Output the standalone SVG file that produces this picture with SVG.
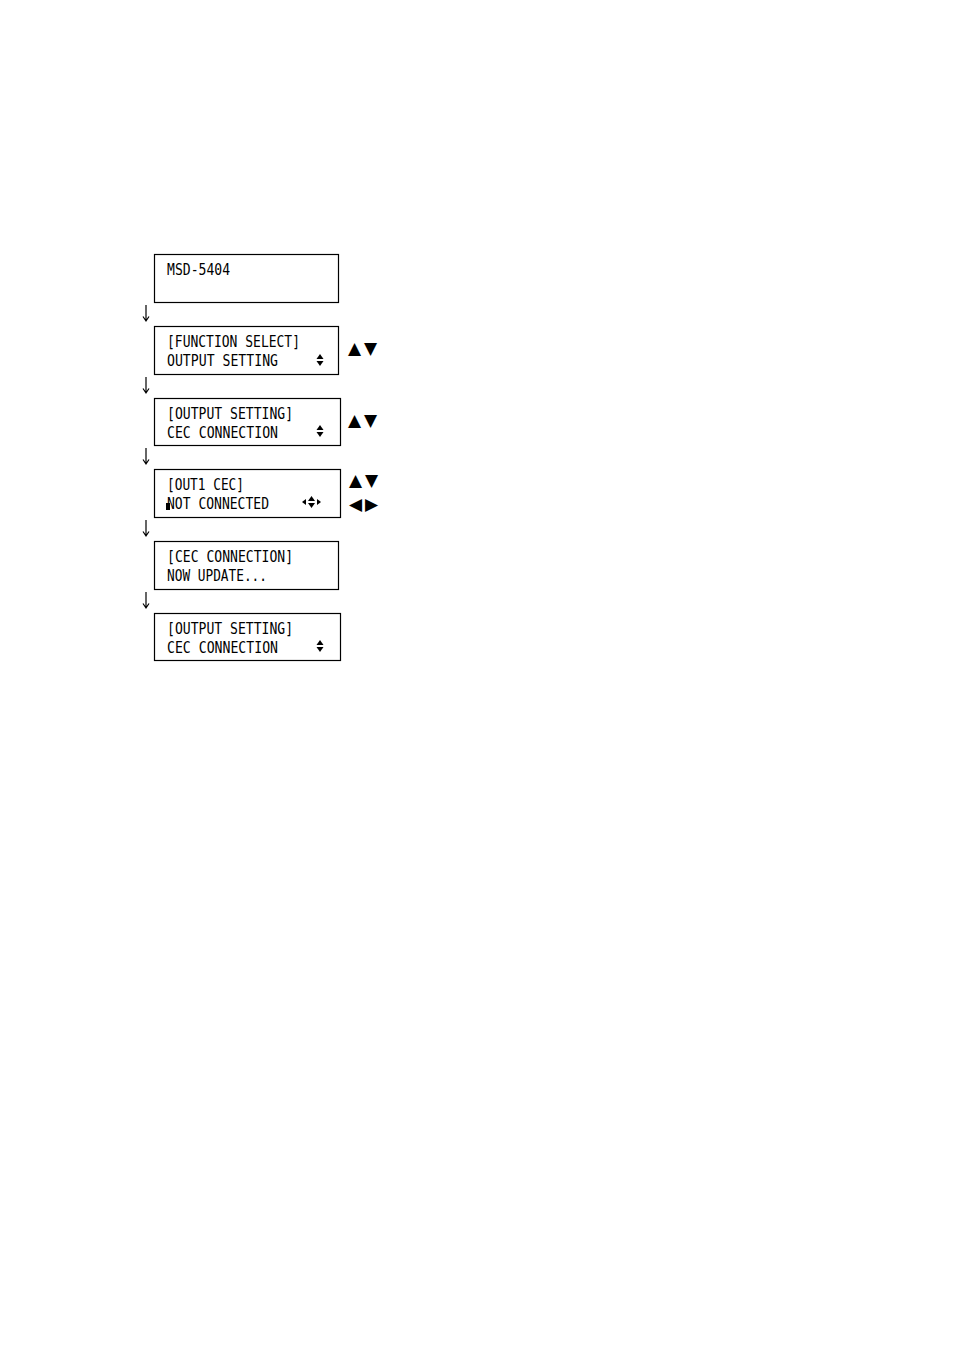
<svg xmlns="http://www.w3.org/2000/svg" width="954" height="1350" viewBox="0 0 954 1350">
<style>
.box{fill:#fff;stroke:#000;stroke-width:1.2}
.t{font-family:"DejaVu Sans Mono","Liberation Mono",monospace;font-size:16px;fill:#000}
.sym{font-family:"DejaVu Sans","Liberation Sans",sans-serif;font-size:17px;fill:#000;text-anchor:middle}
.conn{stroke:#000;stroke-width:1.2;fill:none}
.ic{fill:#000}
</style>
<rect width="954" height="1350" fill="#fff"/>
<defs>
<g id="updown"><polygon points="-3.5,-1 3.5,-1 0,-6"/><polygon points="-3.5,1 3.5,1 0,6"/></g>
</defs>
<g id="connectors">
<path class="conn" d="M146,305V321M143,316.5L146,321L149,316.5"/>
<path class="conn" d="M146,377V393M143,388.5L146,393L149,388.5"/>
<path class="conn" d="M146,448V464M143,459.5L146,464L149,459.5"/>
<path class="conn" d="M146,520V536M143,531.5L146,536L149,531.5"/>
<path class="conn" d="M146,592V608M143,603.5L146,608L149,603.5"/>
</g>
<g id="n1">
<rect class="box" x="154.5" y="254.5" width="184" height="48"/>
<text class="t" x="167" y="275" textLength="63" lengthAdjust="spacingAndGlyphs">MSD-5404</text>
</g>
<g id="n2">
<rect class="box" x="154.5" y="326.5" width="184" height="48"/>
<text class="t" x="167" y="347" textLength="133" lengthAdjust="spacingAndGlyphs">[FUNCTION SELECT]</text>
<text class="t" x="167" y="366" textLength="111" lengthAdjust="spacingAndGlyphs">OUTPUT SETTING</text>
<use href="#updown" class="ic" x="320" y="360"/>
<text class="sym" x="354.5" y="354">▲</text>
<text class="sym" x="370.5" y="354">▼</text>
</g>
<g id="n3">
<rect class="box" x="154.5" y="398.5" width="186" height="47"/>
<text class="t" x="167" y="419" textLength="126" lengthAdjust="spacingAndGlyphs">[OUTPUT SETTING]</text>
<text class="t" x="167" y="438" textLength="111" lengthAdjust="spacingAndGlyphs">CEC CONNECTION</text>
<use href="#updown" class="ic" x="320" y="431"/>
<text class="sym" x="354.5" y="426">▲</text>
<text class="sym" x="370.5" y="426">▼</text>
</g>
<g id="n4">
<rect class="box" x="154.5" y="469.5" width="186" height="48"/>
<text class="t" x="167" y="490" textLength="77" lengthAdjust="spacingAndGlyphs">[OUT1 CEC]</text>
<text class="t" x="167" y="509" textLength="102" lengthAdjust="spacingAndGlyphs">NOT CONNECTED</text>
<rect x="166" y="503" width="4" height="7" fill="#000"/>
<use href="#updown" class="ic" x="311.5" y="502"/>
<polygon class="ic" points="306,499 306,505 302,502"/>
<polygon class="ic" points="317,499 317,505 321,502"/>
<text class="sym" x="355.5" y="486">▲</text>
<text class="sym" x="371.5" y="486">▼</text>
<text class="sym" x="355.5" y="509.5">◀</text>
<text class="sym" x="371.5" y="509.5">▶</text>
</g>
<g id="n5">
<rect class="box" x="154.5" y="541.5" width="184" height="48"/>
<text class="t" x="167" y="562" textLength="126" lengthAdjust="spacingAndGlyphs">[CEC CONNECTION]</text>
<text class="t" x="167" y="581" textLength="100" lengthAdjust="spacingAndGlyphs">NOW UPDATE...</text>
</g>
<g id="n6">
<rect class="box" x="154.5" y="613.5" width="186" height="47"/>
<text class="t" x="167" y="634" textLength="126" lengthAdjust="spacingAndGlyphs">[OUTPUT SETTING]</text>
<text class="t" x="167" y="653" textLength="111" lengthAdjust="spacingAndGlyphs">CEC CONNECTION</text>
<use href="#updown" class="ic" x="320" y="646"/>
</g>
</svg>
